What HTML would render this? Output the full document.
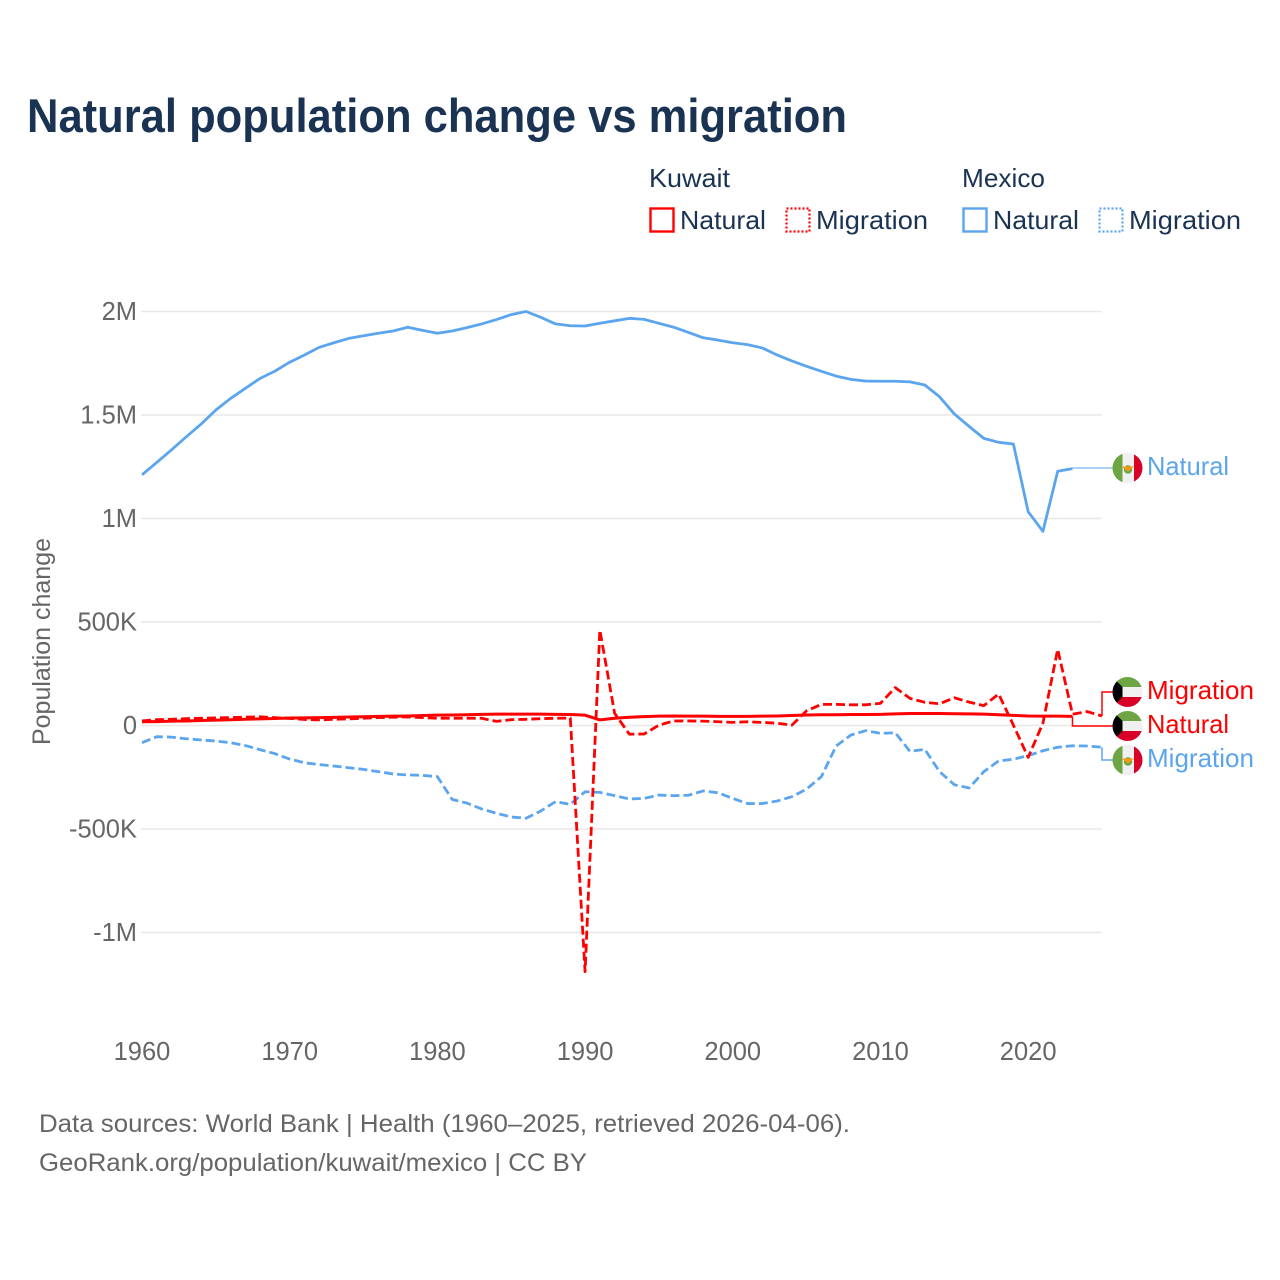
<!DOCTYPE html>
<html lang="en">
<head>
<meta charset="utf-8">
<title>Natural population change vs migration</title>
<style>
  html, body { margin: 0; padding: 0; background: #fff; }
  svg { display: block; font-family: "Liberation Sans", Arial, sans-serif; }
</style>
</head>
<body>
<svg id="chart" xmlns="http://www.w3.org/2000/svg" width="1280" height="1280" viewBox="0 0 1280 1280">
  <defs>
    <clipPath id="flag-clip"><circle cx="0" cy="0" r="15"></circle></clipPath>
  </defs>
  <rect x="0" y="0" width="1280" height="1280" fill="#ffffff"></rect>

  <text x="27" y="132" font-size="47" font-weight="700" fill="#1a3352" textLength="820" lengthAdjust="spacingAndGlyphs">Natural population change vs migration</text>

  <g font-size="26" fill="#1a3352">
    <text x="649" y="187" textLength="81" lengthAdjust="spacingAndGlyphs">Kuwait</text>
    <text x="962" y="187" textLength="83" lengthAdjust="spacingAndGlyphs">Mexico</text>

    <g>
      <rect x="650.5" y="208.5" width="23" height="23" fill="none" stroke="#ff0000" stroke-width="2.4"></rect>
      <text x="680" y="229" textLength="86" lengthAdjust="spacingAndGlyphs">Natural</text>
    </g>
    <g>
      <rect x="786.5" y="208.5" width="23" height="23" fill="none" stroke="#ff0000" stroke-width="2.2" stroke-dasharray="2 2"></rect>
      <text x="816" y="229" textLength="112" lengthAdjust="spacingAndGlyphs">Migration</text>
    </g>
    <g>
      <rect x="963.5" y="208.5" width="23" height="23" fill="none" stroke="#5ba5ee" stroke-width="2.4"></rect>
      <text x="993" y="229" textLength="86" lengthAdjust="spacingAndGlyphs">Natural</text>
    </g>
    <g>
      <rect x="1099.5" y="208.5" width="23" height="23" fill="none" stroke="#5ba5ee" stroke-width="2.2" stroke-dasharray="2 2"></rect>
      <text x="1129" y="229" textLength="112" lengthAdjust="spacingAndGlyphs">Migration</text>
    </g>
  </g>

  <g id="grid"></g>
  <g id="yticks" font-size="25.5" fill="#666666" text-anchor="end"></g>
  <g id="xticks" font-size="25.5" fill="#666666" text-anchor="middle"></g>
  <text transform="translate(50,745) rotate(-90)" font-size="25" fill="#666666" textLength="207" lengthAdjust="spacingAndGlyphs">Population change</text>

  <g id="series" fill="none" stroke-linejoin="round"></g>
  <g id="connectors" fill="none" stroke-width="1.5"></g>

  <g>
    <g transform="translate(1127.5,468)">
      <g clip-path="url(#flag-clip)">
        <rect x="-15" y="-15" width="10" height="30" fill="#6da544"></rect>
        <rect x="-5" y="-15" width="12" height="30" fill="#f0f0f0"></rect>
        <rect x="6.5" y="-15" width="9" height="30" fill="#d80027"></rect>
        <circle cx="0.5" cy="1.5" r="4.2" fill="#6da544"></circle>
        <path d="M-6 -1.5 L6.5 -1.5 L0.5 3.5 Z" fill="#ff9811"></path>
      </g>
    </g>
    <text x="1147" y="475" font-size="26" fill="#5ba5ee" textLength="82" lengthAdjust="spacingAndGlyphs">Natural</text>
  </g>
  <g>
    <g transform="translate(1127.5,692)">
      <g clip-path="url(#flag-clip)">
        <rect x="-15" y="-15" width="30" height="10" fill="#6da544"></rect>
        <rect x="-15" y="-5" width="30" height="10" fill="#f0f0f0"></rect>
        <rect x="-15" y="5" width="30" height="10" fill="#d80027"></rect>
        <path d="M-15 -15 L-5 -5 L-5 5 L-15 15 Z" fill="#000000"></path>
      </g>
    </g>
    <text x="1147" y="699" font-size="26" fill="#ff0000" textLength="107" lengthAdjust="spacingAndGlyphs">Migration</text>
  </g>
  <g>
    <g transform="translate(1127.5,726)">
      <g clip-path="url(#flag-clip)">
        <rect x="-15" y="-15" width="30" height="10" fill="#6da544"></rect>
        <rect x="-15" y="-5" width="30" height="10" fill="#f0f0f0"></rect>
        <rect x="-15" y="5" width="30" height="10" fill="#d80027"></rect>
        <path d="M-15 -15 L-5 -5 L-5 5 L-15 15 Z" fill="#000000"></path>
      </g>
    </g>
    <text x="1147" y="733" font-size="26" fill="#ff0000" textLength="82" lengthAdjust="spacingAndGlyphs">Natural</text>
  </g>
  <g>
    <g transform="translate(1127.5,760)">
      <g clip-path="url(#flag-clip)">
        <rect x="-15" y="-15" width="10" height="30" fill="#6da544"></rect>
        <rect x="-5" y="-15" width="12" height="30" fill="#f0f0f0"></rect>
        <rect x="6.5" y="-15" width="9" height="30" fill="#d80027"></rect>
        <circle cx="0.5" cy="1.5" r="4.2" fill="#6da544"></circle>
        <path d="M-6 -1.5 L6.5 -1.5 L0.5 3.5 Z" fill="#ff9811"></path>
      </g>
    </g>
    <text x="1147" y="767" font-size="26" fill="#5ba5ee" textLength="107" lengthAdjust="spacingAndGlyphs">Migration</text>
  </g>

  <text x="39" y="1132" font-size="25" fill="#666666" textLength="811" lengthAdjust="spacingAndGlyphs">Data sources: World Bank | Health (1960–2025, retrieved 2026-04-06).</text>
  <text x="39" y="1171" font-size="25" fill="#666666" textLength="548" lengthAdjust="spacingAndGlyphs">GeoRank.org/population/kuwait/mexico | CC BY</text>
</svg>

<script>
// Values in thousands of people, one entry per year starting at 1960.
const startYear = 1960;
const endYear = 2025;
const xTickYears = [1960, 1970, 1980, 1990, 2000, 2010, 2020];
const yTickValues = [2000, 1500, 1000, 500, 0, -500, -1000];
const yTickLabels = ['2M', '1.5M', '1M', '500K', '0', '-500K', '-1M'];

const mexicoNatural = [1211, 1271, 1332, 1395, 1456, 1524, 1580, 1629, 1677, 1712,
  1755, 1790, 1827, 1849, 1870, 1883, 1895, 1906, 1924, 1909,
  1895, 1906, 1922, 1940, 1961, 1985, 2000, 1972, 1940, 1931,
  1930, 1943, 1955, 1967, 1962, 1943, 1924, 1899, 1873, 1862,
  1849, 1840, 1824, 1790, 1761, 1735, 1711, 1688, 1672, 1664,
  1663, 1663, 1660, 1645, 1588, 1505, 1445, 1387, 1368, 1360,
  1033, 938, 1228, 1241];

const mexicoMigration = [-83, -54, -56, -64, -70, -75, -83, -97, -117, -136,
  -162, -180, -189, -196, -204, -212, -223, -234, -239, -241,
  -247, -357, -375, -403, -424, -442, -448, -413, -368, -381,
  -320, -323, -339, -355, -352, -336, -339, -337, -316, -325,
  -352, -377, -377, -365, -344, -307, -247, -99, -46, -25,
  -38, -35, -125, -115, -223, -286, -302, -223, -171, -163,
  -146, -122, -105, -98, -99, -105];

const kuwaitNatural = [18, 19, 21, 22, 24, 26, 28, 30, 32, 34,
  36, 37, 38, 39, 41, 42, 44, 45, 46, 48,
  50, 51, 52, 54, 55, 55, 55, 55, 54, 53,
  50, 27, 35, 40, 43, 45, 46, 45, 45, 44,
  44, 44, 45, 46, 48, 51, 52, 52, 53, 53,
  54, 56, 58, 58, 58, 57, 56, 55, 52, 49,
  46, 45, 45, 44];

const kuwaitMigration = [22, 28, 30, 33, 35, 37, 38, 40, 42, 38,
  34, 29, 27, 30, 32, 35, 38, 40, 42, 38,
  35, 35, 35, 35, 20, 28, 30, 33, 35, 36,
  -1189, 461, 59, -42, -41, 2, 22, 22, 21, 18,
  15, 18, 15, 11, 2, 71, 102, 102, 100, 100,
  107, 183, 131, 112, 105, 134, 113, 96, 152, 2,
  -154, 11, 368, 55, 67, 46];

const NS = 'http://www.w3.org/2000/svg';
const plotLeft = 142;
const plotRight = 1102;
const zeroY = 725.5;
const pxPerThousand = 0.207;
const xScale = function (year) {
  return plotLeft + (year - startYear) * (plotRight - plotLeft) / (endYear - startYear);
};
const yScale = function (value) {
  return zeroY - value * pxPerThousand;
};

const grid = document.getElementById('grid');
const yticks = document.getElementById('yticks');
const xticks = document.getElementById('xticks');
const seriesGroup = document.getElementById('series');
const connectors = document.getElementById('connectors');

yTickValues.forEach(function (value, i) {
  const line = document.createElementNS(NS, 'line');
  
  
  line.setAttribute('x1', plotLeft - 1);
  line.setAttribute('x2', plotRight);
  line.setAttribute('y1', yScale(value));
  line.setAttribute('y2', yScale(value));
  line.setAttribute('stroke', '#e8e8e8');
  line.setAttribute('stroke-width', '1.4');
  grid.appendChild(line);

  const label = document.createElementNS(NS, 'text');
  
  
  label.setAttribute('x', 137);
  label.setAttribute('y', yScale(value) + 8.5);
  label.textContent = yTickLabels[i];
  yticks.appendChild(label);
});

xTickYears.forEach(function (year) {
  const label = document.createElementNS(NS, 'text');
  
  
  label.setAttribute('x', xScale(year));
  label.setAttribute('y', 1060);
  label.textContent = String(year);
  xticks.appendChild(label);
});

function linePoints(values) {
  return values.map(function (value, i) {
    return xScale(startYear + i).toFixed(2) + ',' + yScale(value).toFixed(2);
  }).join(' ');
}

function addSeries(name, values, color, dash, width) {
  const line = document.createElementNS(NS, 'polyline');
  
  
  line.setAttribute('points', linePoints(values));
  line.setAttribute('stroke', color);
  line.setAttribute('stroke-width', width);
  if (dash) {
    line.setAttribute('stroke-dasharray', dash);
  }
  seriesGroup.appendChild(line);
}

function addConnector(name, values, color, bendX, labelY) {
  const i = values.length - 1;
  const lastX = xScale(startYear + i);
  const lastY = yScale(values[i]);
  const path = document.createElementNS(NS, 'path');
  
  
  path.setAttribute('d', 'M' + lastX + ' ' + lastY + ' H' + bendX + ' V' + labelY + ' H1113');
  path.setAttribute('stroke', color);
  connectors.appendChild(path);
}

addSeries('series-mexico-natural', mexicoNatural, '#5ba5ee', null, '2.8');
addSeries('series-mexico-migration', mexicoMigration, '#5ba5ee', '9 4', '2.8');
addSeries('series-kuwait-natural', kuwaitNatural, '#ff0000', null, '3');
addSeries('series-kuwait-migration', kuwaitMigration, '#ff0000', '9 4', '2.8');

addConnector('connector-mexico-natural', mexicoNatural, '#8fc0f3', xScale(startYear + mexicoNatural.length - 1), 468);
addConnector('connector-kuwait-migration', kuwaitMigration, '#ff0000', plotRight, 692);
addConnector('connector-kuwait-natural', kuwaitNatural, '#ff0000', xScale(startYear + kuwaitNatural.length - 1), 726);
addConnector('connector-mexico-migration', mexicoMigration, '#5ba5ee', plotRight, 760);
</script>
</body>
</html>
